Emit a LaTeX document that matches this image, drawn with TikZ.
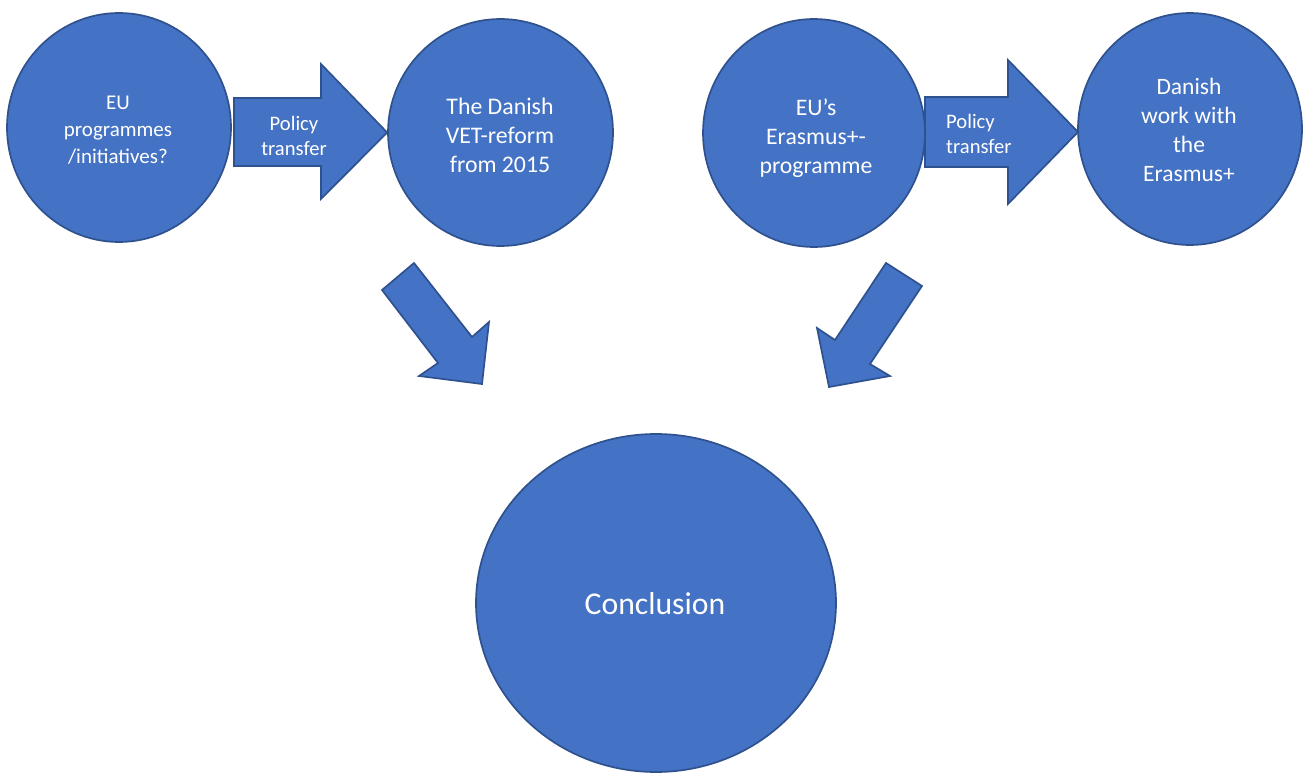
\documentclass[tikz,border=0pt]{standalone}
\usepackage{fontspec}
\setmainfont{Carlito}
\usetikzlibrary{shapes.geometric}
\definecolor{fillblue}{HTML}{4472C4}
\definecolor{edgeblue}{HTML}{2F528F}
\tikzset{
  disc/.style={ellipse, inner sep=0pt, fill=fillblue, draw=edgeblue, line width=1.7pt},
  blockarrow/.style={fill=fillblue, draw=edgeblue, line width=1.7pt, line join=miter},
  caption/.style={text=white, align=center, inner sep=0pt},
}
\begin{document}
\begin{tikzpicture}[x=1pt, y=-1pt]
  \useasboundingbox (0,0) rectangle (1306,773);

  % circles
  \node[disc, minimum width=224pt, minimum height=229pt] (eu)     at (119,127.5) {};
  \node[disc, minimum width=225pt, minimum height=227pt] (vet)    at (500.5,132.5) {};
  \node[disc, minimum width=222pt, minimum height=228pt] (eras)   at (814,133) {};
  \node[disc, minimum width=224pt, minimum height=232pt] (dkwork) at (1190,129) {};
  \node[disc, minimum width=360pt, minimum height=338pt] (concl)  at (656,603) {};

  % texts of the circles
  \node[caption, font=\fontsize{21}{27}\selectfont] (eutxt) at (118,130)
    {EU\\programmes\\/initiatives?};
  \node[caption, font=\fontsize{23.8}{29}\selectfont] (vettxt) at (500,135.5)
    {The Danish\\VET-reform\\from 2015};
  \node[caption, font=\fontsize{23.7}{29}\selectfont] (erastxt) at (816,138.5)
    {EU’s\\Erasmus+-\\programme};
  \node[caption, font=\fontsize{23.5}{29}\selectfont] (dktxt) at (1189,130)
    {Danish\\work with\\the\\Erasmus+};
  \node[caption, font=\fontsize{31.7}{38}\selectfont] (concltxt) at (655,604)
    {Conclusion};

  % block arrows between the top circles
  \draw[blockarrow] (234,98) -- (321,98) -- (321,64) -- (vet.west) -- (321,199)
    -- (321,166) -- (234,166) -- cycle;
  \draw[blockarrow] (925,97) -- (1008,97) -- (1008,60) -- (1078,132) -- (1008,204)
    -- (1008,167) -- (925,167) -- cycle;
  \node[caption, font=\fontsize{20.6}{25}\selectfont] (pt1) at (294,136)
    {Policy\\transfer};
  \node[caption, align=left, anchor=west, font=\fontsize{20.6}{25}\selectfont] (pt2) at (946,134)
    {Policy\\transfer};

  % diagonal arrows towards the conclusion
  \draw[blockarrow] (382,290) -- (414,263) -- (472,337) -- (489,322) -- (482,384)
    -- (419,376) -- (438,363) -- cycle;
  \draw[blockarrow] (886,263) -- (922,286) -- (870,364) -- (890,376) -- (829,387)
    -- (817,328) -- (835,340) -- cycle;
\end{tikzpicture}
\end{document}
